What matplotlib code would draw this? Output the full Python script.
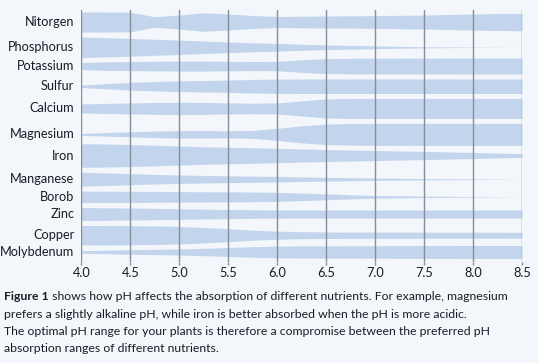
import numpy as np
import matplotlib
matplotlib.use('Agg')
import matplotlib.pyplot as plt

# pH positions at which the band thickness was read
ph = [4.0, 4.25, 4.5, 4.75, 5.0, 5.25, 5.5, 5.75, 6.0, 6.25,
      6.5, 6.75, 7.0, 7.25, 7.5, 7.75, 8.0, 8.25, 8.5]

nutrients = ['Nitorgen', 'Phosphorus', 'Potassium', 'Sulfur', 'Calcium', 'Magnesium',
             'Iron', 'Manganese', 'Borob', 'Zinc', 'Copper', 'Molybdenum']

# relative absorption (band thickness)
nitrogen = [20, 20, 19.5, 10.5, 14, 18.5, 16, 13, 11, 11.5,
            12, 12.3, 12.7, 13.3, 14, 15, 16, 16.8, 17.5]
phosphorus = [20.7, 19.2, 17.7, 16, 14.3, 12.5, 10.5, 9, 7.7, 6,
              4.7, 3.7, 2.8, 1.8, 1.1, 0.7, 0.4, 0.15, 0]
potassium = [7, 8.5, 9, 9.5, 10, 10, 9.5, 9, 9.3, 12.5,
             15, 15.5, 15.5, 15.6, 15.7, 15.8, 15.9, 16, 16]
sulfur = [2.5, 5, 7.7, 9.3, 10.7, 11.5, 12.3, 13.5, 14.3, 14.4,
          14.5, 14.5, 14.5, 14.5, 14.5, 14.5, 14.5, 14.5, 14.5]
calcium = [9, 10, 11, 11.8, 12.3, 12, 11, 10.5, 11, 15,
           19, 20, 20, 20, 20, 20, 20, 20, 20]
magnesium = [2, 3.5, 5, 6.5, 7.5, 7.5, 7, 8, 12, 17,
             20.5, 21.5, 22, 22, 22, 22, 22, 22, 22]
iron = [23.5, 23, 22, 20.5, 19, 17.5, 16.5, 15.5, 14.5, 13,
        12, 11, 10, 9, 8.3, 7, 6, 4.8, 3.8]
manganese = [14, 12.5, 11, 9.5, 8.5, 7.5, 6.8, 6.2, 5.5, 4.5,
             3.8, 3, 2.3, 1.8, 1.3, 1, 0.7, 0.3, 0]
boron = [11.5, 11.3, 11, 10.8, 10.5, 10.2, 10, 9.7, 9, 7.5,
         5.8, 4, 2.7, 2, 1.5, 1, 0.6, 0.3, 0]
zinc = [13, 12.5, 12, 11.3, 10.5, 9.8, 9, 8.5, 8.2, 8,
        8, 8, 8, 8, 8, 8, 8, 8, 8]
copper = [19.5, 19.3, 19, 18.5, 17.5, 15.5, 13, 10, 8, 7,
          6.5, 6.3, 6.3, 6.2, 6.1, 6, 6, 5.9, 5.8]
molybdenum = [2.5, 3.5, 4.5, 5.2, 6, 7.3, 9, 10.5, 11.7, 12,
              12.3, 12.4, 12.5, 12.6, 12.7, 12.8, 12.9, 13, 13]

bands = [nitrogen, phosphorus, potassium, sulfur, calcium, magnesium,
         iron, manganese, boron, zinc, copper, molybdenum]

xticks = [4.0, 4.5, 5.0, 5.5, 6.0, 6.5, 7.0, 7.5, 8.0, 8.5]

caption_bold = 'Figure 1'
caption_lines = [
    ' shows how pH affects the absorption of different nutrients. For example, magnesium',
    'prefers a slightly alkaline pH, while iron is better absorbed when the pH is more acidic.',
    'The optimal pH range for your plants is therefore a compromise between the preferred pH',
    'absorption ranges of different nutrients.',
]

BG = '#f3f6fa'
BAND = '#c2d5ec'
GRID = '#868e99'
TXT = '#1c1c26'

plt.rcParams['font.family'] = ['Lato', 'DejaVu Sans']

W, H = 538, 363
fig = plt.figure(figsize=(W / 100, H / 100), dpi=100, facecolor=BG)
ax = fig.add_axes([81.3 / W, 1 - 262 / H, (522 - 81.3) / W, (262 - 10) / H])
ax.set_facecolor(BG)

renderer = fig.canvas.get_renderer()


def fit_size(s, target_px, weight='normal'):
    t = fig.text(0, 0, s, fontsize=10, weight=weight)
    w = t.get_window_extent(renderer).width
    t.remove()
    return 10 * target_px / w


# Lato is wider than the original font, so go a bit over the measured widths
label_fs = fit_size('Molybdenum', 71) * 1.05
cap_fs = fit_size(caption_bold + caption_lines[0], 493) * 1.03

# stack the rows so that neighbouring bands keep a constant gap
gap = 4.9
centers = [0.0]
for prev, cur in zip(bands[:-1], bands[1:]):
    need = max(a / 2 + b / 2 for a, b in zip(prev, cur))
    centers.append(centers[-1] + need + gap)

x = np.array(ph)
for name, w, c in zip(nutrients, bands, centers):
    w = np.array(w)
    ax.fill_between(x, c - w / 2, c + w / 2, color=BAND, lw=0, zorder=2)
    ax.annotate(name, xy=(4.0, c), xytext=(-7, 0), textcoords='offset pixels',
                ha='right', va='center', fontsize=label_fs, color=TXT,
                annotation_clip=False)

for xv in xticks:
    ax.axvline(xv, color=GRID, lw=1, zorder=3)

ax.set_xlim(4.0, 8.5)
ax.set_ylim(centers[-1] + max(molybdenum) / 2 + 3.5, -(max(nitrogen) / 2 + 2))
ax.set_xticks(xticks)
ax.set_xticklabels([f'{v:.1f}' for v in xticks])
ax.set_yticks([])
ax.tick_params(axis='x', length=2.5, width=1, color=GRID, pad=1,
               labelsize=label_fs, labelcolor=TXT)
for s in ax.spines.values():
    s.set_visible(False)

# caption
x0 = 4 / W
line_y = [296, 314, 331.5, 349]
tb = fig.text(x0, 1 - line_y[0] / H, caption_bold, weight='bold', fontsize=cap_fs,
              color=TXT, va='center')
bw = tb.get_window_extent(renderer).width
fig.text(x0 + bw / W, 1 - line_y[0] / H, caption_lines[0], fontsize=cap_fs,
         color=TXT, va='center')
for line, y in zip(caption_lines[1:], line_y[1:]):
    fig.text(x0, 1 - y / H, line, fontsize=cap_fs, color=TXT, va='center')

fig.savefig('out.png', dpi=100, facecolor=BG)
